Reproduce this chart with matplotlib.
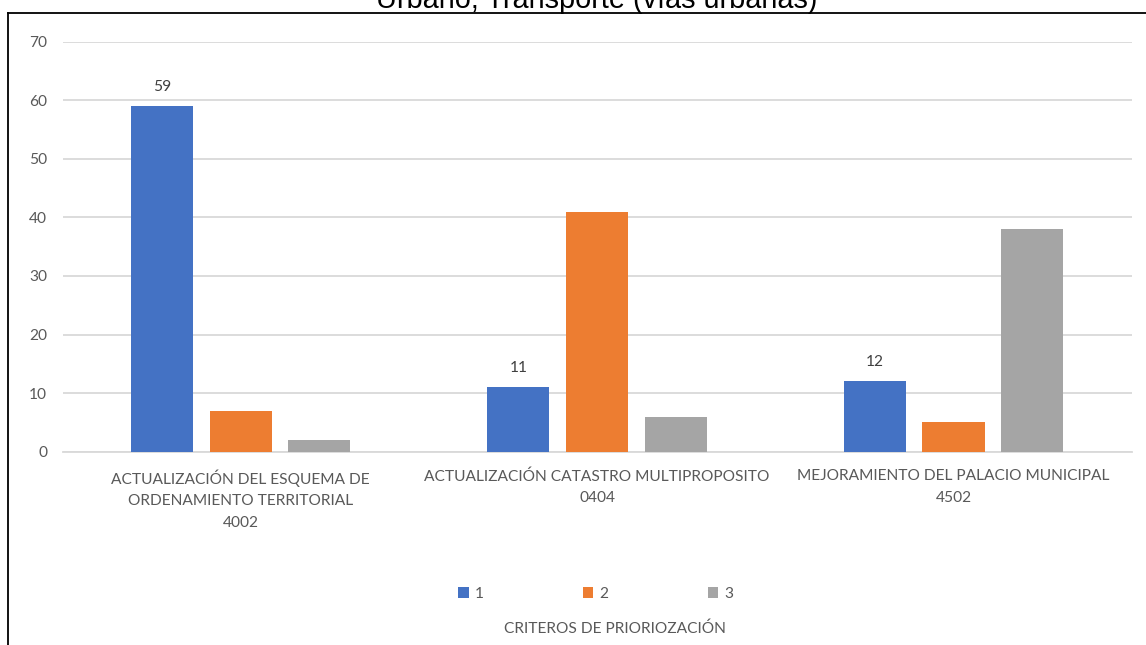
import numpy as np
import matplotlib.pyplot as plt
from matplotlib.lines import Line2D
from matplotlib.patches import Patch

plt.switch_backend('agg')

# data
proyectos = ['ACTUALIZACIÓN DEL ESQUEMA DE\nORDENAMIENTO TERRITORIAL\n4002',
             'ACTUALIZACIÓN CATASTRO MULTIPROPOSITO\n0404',
             'MEJORAMIENTO DEL PALACIO MUNICIPAL\n4502']
serie_1 = [59, 11, 12]
serie_2 = [7, 41, 5]
serie_3 = [2, 6, 38]
series_nombres = ['1', '2', '3']
colores = ['#4472C4', '#ED7D31', '#A5A5A5']
titulo = 'Urbano, Transporte (vías urbanas)'
eje_x = 'CRITEROS DE PRIORIOZACIÓN'

W, H = 1146, 645
gris = '#595959'
fuente = 'Lato'
fs = 11.2

fig = plt.figure(figsize=(W / 100, H / 100), dpi=100)
ax = fig.add_axes([62.5 / W, 1 - 451.7 / H, (1131.7 - 62.5) / W, (451.7 - 41.7) / H])

x = np.arange(len(proyectos))
ancho = 0.174
paso = 0.221
barras = []
for i, (vals, col) in enumerate(zip([serie_1, serie_2, serie_3], colores)):
    b = ax.bar(x + (i - 1) * paso, vals, ancho, color=col, zorder=3)
    barras.append(b)

# only first series carries labels in the original
for rect, v in zip(barras[0], serie_1):
    ax.annotate(str(v), (rect.get_x() + rect.get_width() / 2, v),
                xytext=(0, 9), textcoords='offset points', ha='center', va='bottom',
                fontsize=fs, color='#404040', family=fuente)

ax.set_xlim(-0.5, 2.5)
ax.set_ylim(0, 70)
ax.set_yticks(np.arange(0, 71, 10))
ax.yaxis.grid(True, color='#d9d9d9', linewidth=1.3, zorder=0)
for s in ['top', 'right', 'left']:
    ax.spines[s].set_visible(False)
ax.spines['bottom'].set_color('#d9d9d9')
ax.spines['bottom'].set_linewidth(1.3)
ax.tick_params(axis='both', length=0, colors=gris, labelsize=fs)
ax.tick_params(axis='y', pad=11)
ax.tick_params(axis='x', pad=12.5)
ax.set_xticks(x)
ax.set_xticklabels(proyectos, linespacing=1.7)
for t in ax.get_xticklabels() + ax.get_yticklabels():
    t.set_family(fuente)

handles = [Patch(facecolor=c, edgecolor='none') for c in colores]
fig.legend(handles, series_nombres, ncol=3, loc='center',
           bbox_to_anchor=(596 / W, 1 - 594 / H), frameon=False,
           handlelength=0.65, handleheight=0.65, handletextpad=0.4,
           columnspacing=6.4, prop={'family': fuente, 'size': fs},
           labelcolor=gris)

fig.text(615 / W, 1 - 629 / H, eje_x, ha='center', va='center',
         fontsize=fs, color=gris, family=fuente)

fig.text(596.5 / W, 1 - 7.5 / H, titulo, ha='center', va='baseline',
         fontsize=20.8, family='Liberation Sans', color='black')

# chart border (cropped)
fig.add_artist(Line2D([8 / W, 8 / W], [0, 1 - 12.5 / H], transform=fig.transFigure,
                      color='black', linewidth=1.3))
fig.add_artist(Line2D([8 / W, 1], [1 - 12.5 / H, 1 - 12.5 / H], transform=fig.transFigure,
                      color='black', linewidth=1.3))

fig.savefig('out.png', dpi=100)
